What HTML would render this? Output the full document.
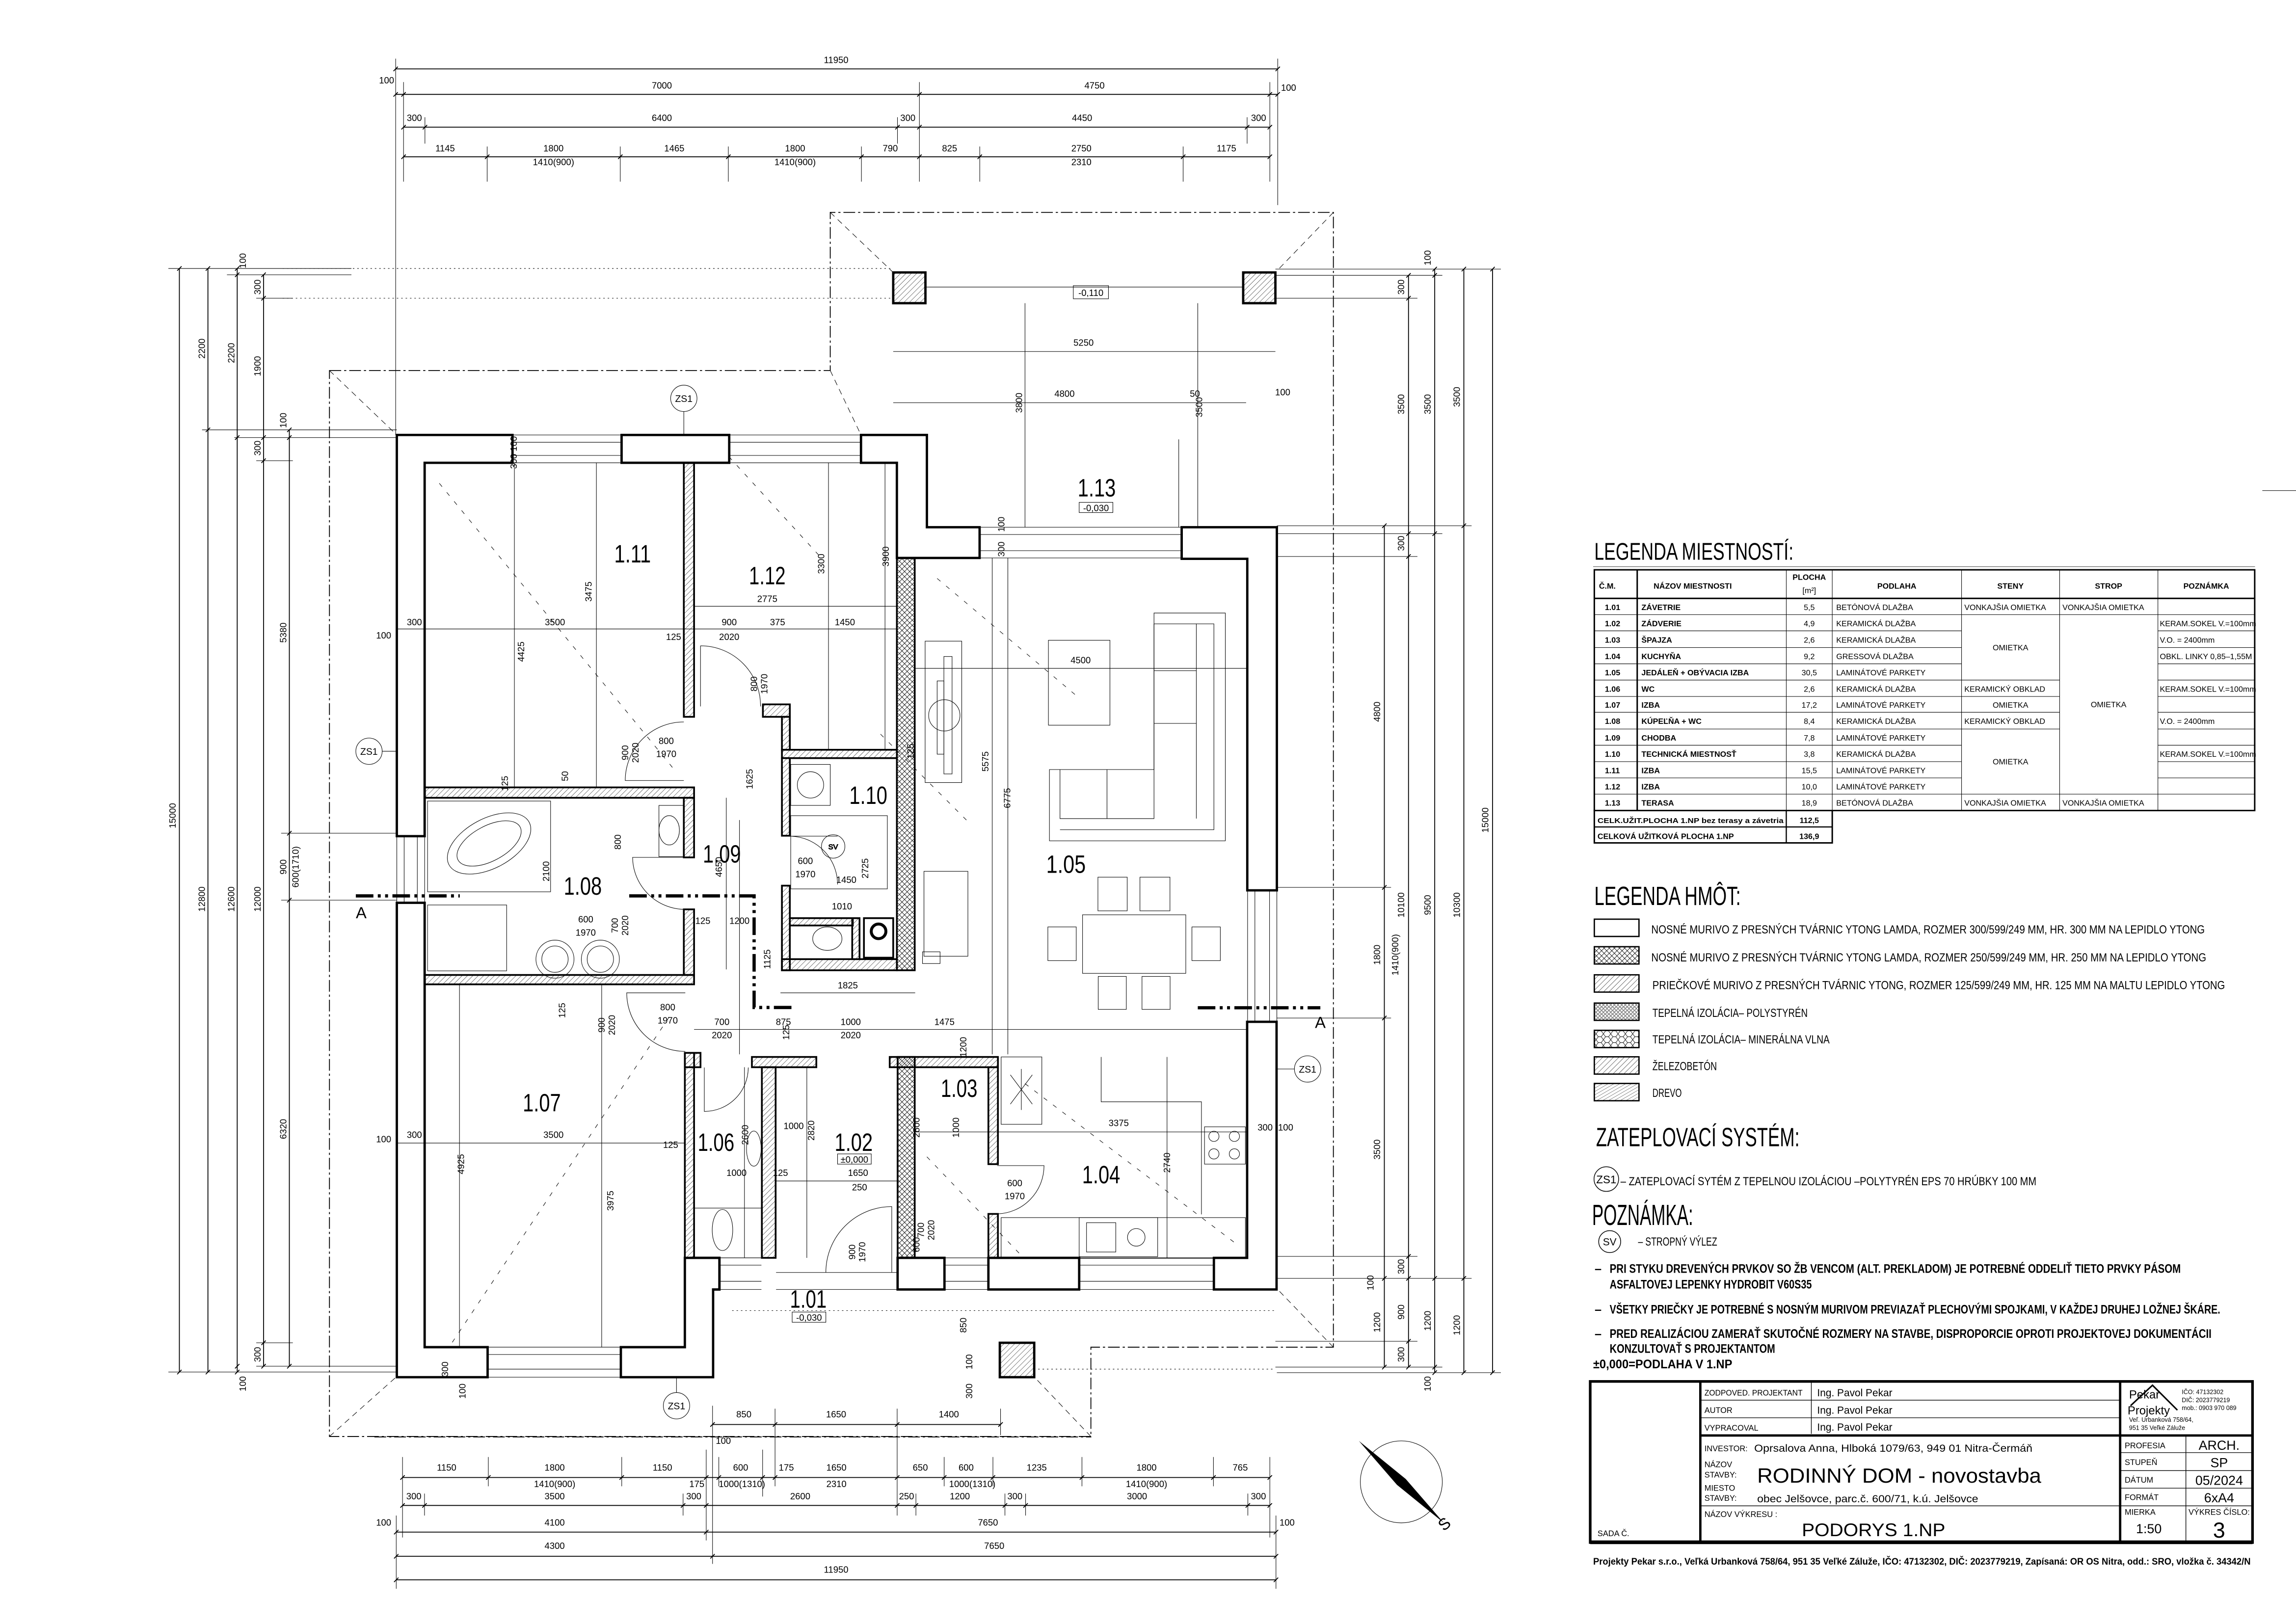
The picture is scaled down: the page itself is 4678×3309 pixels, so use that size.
<!DOCTYPE html>
<html><head><meta charset="utf-8"><style>
html,body{margin:0;padding:0;background:#fff}
svg{display:block}
text{font-family:"Liberation Sans",sans-serif;fill:#000}
.d{font-size:6.2px;text-anchor:middle}
.dv{font-size:6.2px;text-anchor:middle}
.rm{font-size:17px;text-anchor:middle}
.t{font-size:5.4px}
.tb{font-size:5.4px;font-weight:bold}
.c{text-anchor:middle}
.th{stroke:#000;stroke-width:1.6;fill:#fff}
.pt{stroke:#000;stroke-width:1.2;fill:url(#dg)}
.cw{stroke:#000;stroke-width:1.2;fill:url(#cx)}
.ep{stroke:#000;stroke-width:0.3;fill:url(#eps)}
.ln{stroke:#000;stroke-width:0.35;fill:none}
.dm{stroke:#000;stroke-width:0.6;fill:none}
.rf{stroke:#000;stroke-width:0.6;fill:none;stroke-dasharray:8 2 1.5 2}
</style></head><body>
<svg xmlns="http://www.w3.org/2000/svg" width="4678" height="3309" viewBox="0 0 1568 1109">
<defs>
<pattern id="dg" width="2.6" height="2.6" patternUnits="userSpaceOnUse" patternTransform="rotate(45)"><line x1="0" y1="0" x2="0" y2="2.6" stroke="#000" stroke-width="0.35"/></pattern>
<pattern id="cx" width="3.5" height="3.5" patternUnits="userSpaceOnUse"><path d="M0,0 L3.5,3.5 M3.5,0 L0,3.5" stroke="#000" stroke-width="0.3"/></pattern>
<pattern id="eps" width="2.5" height="2.5" patternUnits="userSpaceOnUse"><circle cx="1.25" cy="1.25" r="1" fill="none" stroke="#000" stroke-width="0.25"/></pattern>
<pattern id="mw" width="5" height="4" patternUnits="userSpaceOnUse"><path d="M0,2 L1.5,0 3.5,0 5,2 3.5,4 1.5,4Z" fill="none" stroke="#000" stroke-width="0.3"/></pattern>
<pattern id="wd" width="2" height="2" patternUnits="userSpaceOnUse" patternTransform="rotate(60)"><line x1="0" y1="0" x2="0" y2="2" stroke="#000" stroke-width="0.3"/></pattern>
</defs>
<rect width="1568" height="1109" fill="#fff"/>

<!-- ROOF / OVERHANG OUTLINES -->
<path class="rf" d="M225,253 L567,253 L567,145 L910.6,145 L910.6,920 L745,920 L745,981 L225,981 Z"/>
<path class="ln" stroke-dasharray="4 3" d="M225,253 L271,297 M567,145 L610,186 M910.6,145 L871,186 M910.6,920 L872,880 M225,981 L271,940 M745,981 L706,940 M567,253 L588,297"/>
<path class="ln" stroke-dasharray="3 5" d="M300,330 L460,525 M640,395 L735,475 M660,560 L600,500 M300,930 L460,690 M700,740 L845,850 M487,300 L560,380 M633,790 L700,860"/>
<path class="ln" stroke-dasharray="1 2" d="M193,183.3 L610,183.3 M193,203.6 L610,203.6 M871,916 L965,916 M871,933.6 L965,933.6 M706,935 L871,935 M500,895 L870,895"/>

<!-- TERRACE 1.13 -->
<rect x="610" y="186" width="22" height="21" class="th" style="fill:url(#dg)"/>
<rect x="849" y="186" width="22" height="21" class="th" style="fill:url(#dg)"/>
<path class="ln" d="M632,196 L849,196 M610,240 L871,240 M610,275 L851,275 M700,207 L700,360 M818,207 L818,360 M805,360 L805,300"/>
<text class="d" x="740" y="236">5250</text><text class="d" x="727" y="271">4800</text><text class="d" x="816" y="271">50</text><text class="d" x="876" y="270">100</text>
<text class="dv" transform="translate(698,275) rotate(-90)">3800</text><text class="dv" transform="translate(821,278) rotate(-90)">3500</text>
<rect x="733" y="195" width="24" height="9" class="ln"/><text class="d" x="745" y="202">-0,110</text>
<text class="rm" x="749" y="339" textLength="26" lengthAdjust="spacingAndGlyphs">1.13</text>
<rect x="737" y="343" width="23" height="7" class="ln"/><text class="d" x="748.5" y="349">-0,030</text>

<!-- INSULATION STRIPS -->
<g class="ep">
<rect x="271" y="297" width="5" height="274"/><rect x="271" y="616.5" width="5" height="324"/>
<rect x="271" y="297" width="79" height="5"/><rect x="424.5" y="297" width="73.5" height="5"/><rect x="588" y="297" width="45" height="5"/>
<rect x="628" y="297" width="5" height="68"/><rect x="628" y="360" width="41" height="5"/>
<rect x="807" y="360" width="65" height="5"/><rect x="867" y="360" width="5" height="248"/><rect x="867" y="697.8" width="5" height="182.8"/>
<rect x="271" y="935.5" width="62" height="5"/><rect x="424" y="935.5" width="63" height="5"/><rect x="482" y="880" width="5" height="60"/>
<rect x="675" y="875.6" width="62" height="5"/><rect x="829" y="875.6" width="43" height="5"/><rect x="613" y="875.6" width="32" height="5"/><rect x="472" y="875.6" width="19" height="5"/>
</g>

<!-- WINDOWS (thin) -->
<path class="ln" d="M350,297 L424.5,297 M350,302 L424.5,302 M350,311 L424.5,311 M350,316 L424.5,316
M498,297 L588,297 M498,302 L588,302 M498,311 L588,311 M498,316 L588,316
M669,360 L807,360 M669,365 L807,365 M669,376 L807,376 M669,381 L807,381
M271,571 L271,616.5 M276,571 L276,616.5 M285,571 L285,616.5 M290,571 L290,616.5
M333,920 L424,920 M333,925 L424,925 M333,935 L424,935 M333,940.5 L424,940.5
M852,608 L852,697.8 M857,608 L857,697.8 M867,608 L867,697.8 M872,608 L872,697.8
M737,859 L829,859 M737,864 L829,864 M737,875 L829,875 M737,880.6 L829,880.6
M645,859 L675,859 M645,864 L675,864 M645,875 L675,875 M645,880.6 L675,880.6
M491,859 L520,859 M491,864 L520,864 M491,875 L520,875 M491,880.6 L520,880.6
M530,880.6 L613,880.6 M530,869 L613,869"/>

<!-- OUTER MASONRY -->
<g class="th">
<polygon points="271,297 350,297 350,316 290,316 290,571 271,571"/>
<rect x="424.5" y="297" width="73.5" height="19"/>
<polygon points="588,297 633,297 633,360 669,360 669,381 612.5,381 612.5,316 588,316"/>
<polygon points="807,360 872,360 872,608 851.8,608 851.8,381.6 807,381.6"/>
<polygon points="851.7,697.8 871.8,697.8 871.8,880.6 829,880.6 829,859 851.7,859"/>
<rect x="675" y="859" width="62" height="21.6"/>
<rect x="613" y="859" width="32" height="21.6"/>
<rect x="472" y="859" width="19.3" height="21.6"/>
<polygon points="467.7,859 491.3,859 491.3,880.6 487,880.6 487,940.5 424,940.5 424,920 467.7,920"/>
<polygon points="271,616.5 290,616.5 290,920 333,920 333,940.5 271,940.5"/>
</g>
<rect x="682.8" y="917" width="23.5" height="23.5" class="th" style="fill:url(#dg)"/>

<!-- 250 WALLS -->
<rect x="612.5" y="381" width="12.2" height="281.6" class="cw"/>
<rect x="613" y="721.8" width="11.7" height="137.2" class="cw"/>

<!-- PARTITIONS 125 -->
<g class="pt">
<rect x="467" y="316" width="7" height="173.5"/>
<rect x="290" y="537.7" width="184" height="7.1"/>
<rect x="467" y="544.8" width="7" height="40.7"/>
<rect x="467" y="621" width="7" height="44.8"/>
<rect x="290" y="665.8" width="184" height="6.4"/>
<rect x="467.7" y="719" width="6.3" height="140"/>
<rect x="521" y="481" width="18.4" height="8.5"/>
<rect x="534" y="489.5" width="5.4" height="22.5"/>
<rect x="534" y="512" width="78.5" height="5.7"/>
<rect x="534" y="517.7" width="5.4" height="53"/>
<rect x="534" y="604.8" width="5.4" height="57.8"/>
<rect x="534" y="655" width="78.5" height="7.6"/>
<rect x="467.7" y="719" width="10.7" height="9.8"/>
<rect x="513.5" y="721.8" width="44" height="7"/>
<rect x="607.6" y="721.8" width="73.9" height="7"/>
<rect x="520.3" y="728.8" width="9.4" height="130.2"/>
<rect x="675" y="728.8" width="6.5" height="66.2"/>
<rect x="675" y="829" width="6.5" height="30"/>
<rect x="539.4" y="627" width="43" height="5"/>
<rect x="582" y="627" width="5" height="28"/>
</g>
<!-- section A -->
<path d="M243,611.8 L314,611.8 M429.7,611.8 L515,611.8 L515,688 L542.6,688 M818,688.2 L901.7,688.2" stroke="#000" stroke-width="2.2" fill="none" stroke-dasharray="12 3 2 3 2 3"/>
<text x="243" y="627" style="font-size:11px">A</text><text x="898" y="702" style="font-size:11px">A</text>

<!-- DOORS -->
<path class="ln" d="M467,493 A40,40 0 0 0 427,533 L467,533
M478.4,441 L478.4,482.4 M478.4,441 A41,41 0 0 1 519.4,482.4
M468,585.5 L432,585.5 A36,36 0 0 0 468,621
M540,571 L572,571 M540,571 A33,33 0 0 1 572,604
M468,678 L428,678 A40,40 0 0 0 468,718
M481,729 L481,759 A30,30 0 0 0 511,729
M609,869 L609,824 A45,45 0 0 0 564,869
M681,796 L713,796 A33,33 0 0 1 681,829"/>

<!-- FURNITURE -->
<g class="ln">
<polygon points="788.1,418.6 836.8,418.6 836.8,574.2 716.7,574.2 716.7,525.5 788.1,525.5"/>
<polyline points="788.1,426 829,426 829,566.6 723.9,566.6"/>
<polyline points="788.1,426 788.1,559 723.9,559 723.9,525.5"/>
<line x1="817" y1="426" x2="817" y2="559"/><line x1="788.1" y1="458" x2="817" y2="458"/><line x1="788.1" y1="494" x2="817" y2="494"/><line x1="756" y1="525.5" x2="756" y2="559"/>
<rect x="716" y="437.2" width="42" height="58"/>
<rect x="631.8" y="437.8" width="25" height="96.6"/><rect x="644.6" y="448.3" width="5.6" height="80.2"/><rect x="640" y="465" width="4.6" height="50"/><circle cx="644.9" cy="488.5" r="10.7"/>
<rect x="739.3" y="624.7" width="70.5" height="40"/>
<rect x="749.8" y="599" width="20" height="23"/><rect x="778.5" y="599" width="20.5" height="23"/>
<rect x="750" y="666.8" width="19.2" height="22.5"/><rect x="779.9" y="666.8" width="19.2" height="22.5"/>
<rect x="715.6" y="633" width="19.4" height="23"/><rect x="814" y="633" width="19.4" height="23"/>
<polyline points="752,721.8 752,752.4 820.5,752.4 820.5,829.3"/>
<rect x="683.7" y="831.5" width="166.8" height="27.8"/><rect x="737" y="831.5" width="53.6" height="26.7"/><rect x="742" y="835" width="20" height="20"/><circle cx="776" cy="845" r="6"/>
<rect x="822.6" y="769.5" width="27.9" height="25.5"/><circle cx="829" cy="776" r="3.5"/><circle cx="843" cy="776" r="3.5"/><circle cx="829" cy="788" r="3.5"/><circle cx="843" cy="788" r="3.5"/>
<rect x="683.7" y="721.8" width="27.8" height="46"/><path d="M690,734 L705,754 M705,734 L690,754 M697.5,730 L697.5,758"/>
<rect x="292" y="547" width="84" height="62"/><ellipse cx="334" cy="576" rx="31" ry="17" transform="rotate(-28 334 576)"/><ellipse cx="334" cy="576" rx="24" ry="12" transform="rotate(-28 334 576)"/>
<ellipse cx="457" cy="567" rx="7" ry="10"/><rect x="450" y="550" width="17" height="35"/>
<rect x="292" y="618" width="54" height="45"/><circle cx="379" cy="655" r="13"/><circle cx="410" cy="655" r="13"/><circle cx="379" cy="655" r="9"/><circle cx="410" cy="655" r="9"/>
<rect x="540" y="522" width="27" height="28"/><circle cx="553.5" cy="536" r="9"/>
<rect x="540" y="557" width="66" height="50"/><circle cx="569" cy="578" r="8"/><text x="569" y="580" class="d" style="font-size:5px">SV</text>
<rect x="590" y="627" width="20" height="27" style="stroke-width:1.2"/><circle cx="600" cy="636" r="5" style="stroke-width:2"/>
<ellipse cx="565" cy="641" rx="10" ry="8"/>
<ellipse cx="514.8" cy="784.4" rx="5" ry="12"/><ellipse cx="493.4" cy="840" rx="7" ry="14"/><rect x="474" y="825" width="46" height="34"/>
<rect x="631" y="595" width="30" height="58"/><rect x="630" y="650" width="12" height="8"/>
</g>

<!-- INTERIOR DIMENSIONS -->
<path class="ln" d="M271,429.5 L612.5,429.5 M474,414 L612.5,414 M351.3,316 L351.3,537.7 M407.3,316 L407.3,537.7 M565.8,316 L565.8,512 M604.4,316 L604.4,512
M625,456.4 L852,456.4 M677.6,381 L677.6,720 M688.3,381 L688.3,720
M271,780.6 L467.7,780.6 M313.8,672 L313.8,920 M410.9,672 L410.9,920
M625,773 L852,773 M797,721.8 L797,859 M530,806.5 L613,806.5 M551,728.8 L551,859 M508.4,728.8 L508.4,859
M533,678 L625,678 M474,703 L852,703 M496,544.8 L496,662 M505,560 L505,720"/>
<g class="d">
<text x="283" y="427">300</text><text x="379" y="427">3500</text><text x="460" y="437">125</text><text x="498" y="427">900</text><text x="498" y="437">2020</text><text x="531" y="427">375</text><text x="577" y="427">1450</text>
<text x="524" y="411">2775</text><text x="738" y="453">4500</text><text x="283" y="777">300</text><text x="378" y="777">3500</text><text x="458" y="784">125</text>
<text x="764" y="769">3375</text><text x="586" y="803">1650</text><text x="579" y="675">1825</text><text x="581" y="700">1000</text><text x="581" y="709">2020</text><text x="645" y="700">1475</text><text x="535" y="700">875</text><text x="493" y="700">700</text><text x="493" y="709">2020</text>
<text x="455" y="508">800</text><text x="455" y="517">1970</text><text x="456" y="690">800</text><text x="456" y="699">1970</text><text x="400" y="630">600</text><text x="400" y="639">1970</text><text x="550" y="590">600</text><text x="550" y="599">1970</text><text x="693" y="810">600</text><text x="693" y="819">1970</text>
<text x="262" y="436">100</text><text x="262" y="780">100</text><text x="578" y="603">1450</text><text x="575" y="621">1010</text><text x="505" y="631">1200</text><text x="480" y="631">125</text><text x="864" y="772">300</text><text x="878" y="772">100</text><text x="587" y="813">250</text>
<text x="542" y="771">1000</text><text x="503" y="803">1000</text><text x="533" y="803">125</text>
</g>
<g class="dv">
<text transform="translate(358,445) rotate(-90)">4425</text><text transform="translate(404,404) rotate(-90)">3475</text><text transform="translate(563,385) rotate(-90)">3300</text><text transform="translate(607,380) rotate(-90)">3900</text>
<text transform="translate(675,520) rotate(-90)">5575</text><text transform="translate(690,545) rotate(-90)">6775</text><text transform="translate(317,795) rotate(-90)">4925</text><text transform="translate(419,820) rotate(-90)">3975</text>
<text transform="translate(799,794) rotate(-90)">2740</text><text transform="translate(556,772) rotate(-90)">2820</text><text transform="translate(511,775) rotate(-90)">2600</text><text transform="translate(514,532) rotate(-90)">1625</text>
<text transform="translate(493,592) rotate(-90)">4650</text><text transform="translate(375,595) rotate(-90)">2100</text><text transform="translate(429,514) rotate(-90)">900</text><text transform="translate(436,514) rotate(-90)">2020</text>
<text transform="translate(517,467) rotate(-90)">800</text><text transform="translate(524,467) rotate(-90)">1970</text><text transform="translate(526,655) rotate(-90)">1125</text><text transform="translate(593,593) rotate(-90)">2725</text>
<text transform="translate(660,715) rotate(-90)">1200</text><text transform="translate(539,705) rotate(-90)">125</text>
<text transform="translate(628,770) rotate(-90)">2600</text><text transform="translate(655,770) rotate(-90)">1000</text><text transform="translate(631,840) rotate(-90)">700</text><text transform="translate(638,840) rotate(-90)">2020</text>
<text transform="translate(584,855) rotate(-90)">900</text><text transform="translate(591,855) rotate(-90)">1970</text><text transform="translate(628,850) rotate(-90)">600</text><text transform="translate(386,690) rotate(-90)">125</text><text transform="translate(413,700) rotate(-90)">900</text><text transform="translate(420,700) rotate(-90)">2020</text>
<text transform="translate(347,535) rotate(-90)">125</text><text transform="translate(388,530) rotate(-90)">50</text><text transform="translate(424,575) rotate(-90)">800</text><text transform="translate(422,632) rotate(-90)">700</text><text transform="translate(429,632) rotate(-90)">2020</text>
<text transform="translate(624,513) rotate(-90)">125</text><text transform="translate(686,375) rotate(-90)">300</text><text transform="translate(686,358) rotate(-90)">100</text><text transform="translate(353,303) rotate(-90)">100</text><text transform="translate(353,315) rotate(-90)">300</text>
<text transform="translate(664,930) rotate(-90)">100</text><text transform="translate(664,950) rotate(-90)">300</text><text transform="translate(660,905) rotate(-90)">850</text><text transform="translate(306,935) rotate(-90)">300</text><text transform="translate(318,950) rotate(-90)">100</text>
</g>

<!-- ROOM LABELS -->
<g class="rm">
<text x="432" y="384" textLength="25" lengthAdjust="spacingAndGlyphs">1.11</text>
<text x="524" y="399" textLength="25" lengthAdjust="spacingAndGlyphs">1.12</text>
<text x="593" y="549" textLength="26" lengthAdjust="spacingAndGlyphs">1.10</text>
<text x="493" y="589" textLength="26" lengthAdjust="spacingAndGlyphs">1.09</text>
<text x="398" y="611" textLength="26" lengthAdjust="spacingAndGlyphs">1.08</text>
<text x="728" y="596" textLength="27" lengthAdjust="spacingAndGlyphs">1.05</text>
<text x="370" y="759" textLength="26" lengthAdjust="spacingAndGlyphs">1.07</text>
<text x="489" y="786" textLength="25" lengthAdjust="spacingAndGlyphs">1.06</text>
<text x="583" y="786" textLength="26" lengthAdjust="spacingAndGlyphs">1.02</text>
<text x="655" y="749" textLength="25" lengthAdjust="spacingAndGlyphs">1.03</text>
<text x="752" y="808" textLength="26" lengthAdjust="spacingAndGlyphs">1.04</text>
<text x="552" y="893" textLength="25" lengthAdjust="spacingAndGlyphs">1.01</text>
</g>
<rect x="572" y="788" width="23" height="7" class="ln"/><text class="d" x="583.5" y="794">±0,000</text>
<rect x="541" y="896" width="23" height="7" class="ln"/><text class="d" x="552.5" y="902">-0,030</text>

<!-- ZS1 markers -->
<g class="ln"><circle cx="467" cy="272" r="9"/><circle cx="252" cy="513" r="9"/><circle cx="893" cy="730" r="9"/><circle cx="462" cy="960" r="9"/>
<path d="M467,281 L467,297 M261,513 L271,513 M872,730 L884,730 M462,940.5 L462,951"/></g>
<g class="d" style="font-size:6.5px"><text x="467" y="274.5">ZS1</text><text x="252" y="515.5">ZS1</text><text x="893" y="732.5">ZS1</text><text x="462" y="962.5">ZS1</text></g>

<!-- TOP DIMENSIONS -->
<path class="dm" d="M270.2,47 L872.6,47 M270.2,64.4 L872.6,64.4 M275.6,86.8 L867.2,86.8 M275.6,107 L867.2,107"/>
<path class="ln" d="M270.2,40 L270.2,297 M872.6,40 L872.6,140 M275.6,56 L275.6,124 M627.9,56 L627.9,124 M867.2,56 L867.2,124 M290.2,80 L290.2,98 M612.9,80 L612.9,98 M851.7,80 L851.7,98 M332.7,100 L332.7,124 M423.6,100 L423.6,124 M497.4,100 L497.4,124 M588.3,100 L588.3,124 M669.1,100 L669.1,124 M808,100 L808,124"/>
<path class="dm" d="M268.7,48.5 l3,-3 M871.1,48.5 l3,-3 M268.7,65.9 l3,-3 M274.1,65.9 l3,-3 M626.4,65.9 l3,-3 M865.7,65.9 l3,-3 M871.1,65.9 l3,-3 M274.1,88.3 l3,-3 M288.7,88.3 l3,-3 M611.4,88.3 l3,-3 M626.4,88.3 l3,-3 M850.2,88.3 l3,-3 M865.7,88.3 l3,-3 M274.1,108.5 l3,-3 M331.2,108.5 l3,-3 M422.1,108.5 l3,-3 M495.9,108.5 l3,-3 M586.8,108.5 l3,-3 M626.4,108.5 l3,-3 M667.6,108.5 l3,-3 M806.5,108.5 l3,-3 M865.7,108.5 l3,-3"/>
<g class="d">
<text x="571" y="43">11950</text><text x="452" y="60.4">7000</text><text x="747.5" y="60.4">4750</text><text x="264" y="57">100</text><text x="880" y="62">100</text>
<text x="283" y="82.5">300</text><text x="452" y="82.5">6400</text><text x="620" y="82.5">300</text><text x="739" y="82.5">4450</text><text x="859.5" y="82.5">300</text>
<text x="304" y="103.3">1145</text><text x="378" y="103.3">1800</text><text x="460.5" y="103.3">1465</text><text x="543" y="103.3">1800</text><text x="608" y="103.3">790</text><text x="648.5" y="103.3">825</text><text x="738.5" y="103.3">2750</text><text x="837.6" y="103.3">1175</text>
<text x="378" y="112.7">1410(900)</text><text x="543" y="112.7">1410(900)</text><text x="738.5" y="112.7">2310</text>
</g>

<!-- LEFT DIMENSIONS -->
<path class="dm" d="M122.5,183.3 L122.5,937 M142,183.3 L142,937 M162,183.3 L162,937 M180,187.6 L180,933 M197.6,293.5 L197.6,933"/>
<path class="ln" d="M115,183.3 L240,183.3 M155,187.6 L240,187.6 M138,293.5 L271,293.5 M160,298.8 L271,298.8 M175,314.6 L200,314.6 M192,569 L271,569 M192,614.7 L271,614.7 M175,917 L200,917 M175,933 L271,933 M115,937 L271,937 M175,203.6 L200,203.6"/>
<path class="dm" d="M121,184.8 l3,-3 M121,938.5 l3,-3 M140.5,184.8 l3,-3 M140.5,295 l3,-3 M140.5,938.5 l3,-3 M160.5,184.8 l3,-3 M160.5,189.1 l3,-3 M160.5,300.3 l3,-3 M160.5,934.5 l3,-3 M160.5,938.5 l3,-3 M178.5,189.1 l3,-3 M178.5,205.1 l3,-3 M178.5,300.3 l3,-3 M178.5,316.1 l3,-3 M178.5,918.5 l3,-3 M178.5,934.5 l3,-3 M196.1,295 l3,-3 M196.1,300.3 l3,-3 M196.1,570.5 l3,-3 M196.1,616.2 l3,-3 M196.1,934.5 l3,-3"/>
<g class="dv">
<text transform="translate(120,557) rotate(-90)">15000</text><text transform="translate(140,238) rotate(-90)">2200</text><text transform="translate(140,614) rotate(-90)">12800</text>
<text transform="translate(160,241) rotate(-90)">2200</text><text transform="translate(160,614) rotate(-90)">12600</text><text transform="translate(168,178) rotate(-90)">100</text><text transform="translate(168,945) rotate(-90)">100</text>
<text transform="translate(178,196) rotate(-90)">300</text><text transform="translate(178,250) rotate(-90)">1900</text><text transform="translate(178,306) rotate(-90)">300</text><text transform="translate(178,614) rotate(-90)">12000</text><text transform="translate(178,925) rotate(-90)">300</text>
<text transform="translate(195.5,287) rotate(-90)">100</text><text transform="translate(195.5,432) rotate(-90)">5380</text><text transform="translate(195.5,592) rotate(-90)">900</text><text transform="translate(204,592) rotate(-90)">600(1710)</text><text transform="translate(195.5,771) rotate(-90)">6320</text>
</g>

<!-- RIGHT DIMENSIONS -->
<path class="dm" d="M945.4,359 L945.4,933.6 M961.9,188 L961.9,933.6 M979.8,183.7 L979.8,937.4 M999.7,183.7 L999.7,937.4 M1019.3,183.7 L1019.3,937.4"/>
<path class="ln" d="M871,183.7 L1025,183.7 M871,188 L985,188 M871,203.6 L968,203.6 M872,359 L1005,359 M872,364.4 L985,364.4 M872,380 L968,380 M872,606 L950,606 M872,695.2 L950,695.2 M872,858 L968,858 M872,873 L1005,873 M872,916 L968,916 M872,933.6 L985,933.6 M872,937.4 L1025,937.4"/>
<path class="dm" d="M943.9,360.5 l3,-3 M943.9,607.5 l3,-3 M943.9,696.7 l3,-3 M943.9,874.5 l3,-3 M943.9,935.1 l3,-3 M960.4,189.5 l3,-3 M960.4,205.1 l3,-3 M960.4,365.9 l3,-3 M960.4,381.5 l3,-3 M960.4,859.5 l3,-3 M960.4,874.5 l3,-3 M960.4,917.5 l3,-3 M960.4,935.1 l3,-3 M978.3,185.2 l3,-3 M978.3,189.5 l3,-3 M978.3,365.9 l3,-3 M978.3,874.5 l3,-3 M978.3,935.1 l3,-3 M978.3,938.9 l3,-3 M998.2,185.2 l3,-3 M998.2,360.5 l3,-3 M998.2,874.5 l3,-3 M998.2,938.9 l3,-3 M1017.8,185.2 l3,-3 M1017.8,938.9 l3,-3"/>
<g class="dv">
<text transform="translate(942.5,486) rotate(-90)">4800</text><text transform="translate(942.5,652) rotate(-90)">1800</text><text transform="translate(955,652) rotate(-90)">1410(900)</text><text transform="translate(942.5,785) rotate(-90)">3500</text><text transform="translate(938,876) rotate(-90)">100</text><text transform="translate(942.5,903) rotate(-90)">1200</text>
<text transform="translate(959,196) rotate(-90)">300</text><text transform="translate(959,276) rotate(-90)">3500</text><text transform="translate(959,371) rotate(-90)">300</text><text transform="translate(959,618) rotate(-90)">10100</text><text transform="translate(959,865) rotate(-90)">300</text><text transform="translate(959,896) rotate(-90)">900</text><text transform="translate(959,925) rotate(-90)">300</text>
<text transform="translate(977,176) rotate(-90)">100</text><text transform="translate(977,276) rotate(-90)">3500</text><text transform="translate(977,618) rotate(-90)">9500</text><text transform="translate(977,902) rotate(-90)">1200</text><text transform="translate(977,945) rotate(-90)">100</text>
<text transform="translate(997,271) rotate(-90)">3500</text><text transform="translate(997,618) rotate(-90)">10300</text><text transform="translate(997,905) rotate(-90)">1200</text>
<text transform="translate(1016.5,560) rotate(-90)">15000</text>
</g>

<!-- BOTTOM DIMENSIONS -->
<path class="dm" d="M486.6,972.8 L683.3,972.8 M274.9,1009 L867.2,1009 M274.9,1028.1 L867.2,1028.1 M270.6,1046.3 L871.4,1046.3 M270.6,1062.8 L871.4,1062.8 M270.6,1078.9 L871.4,1078.9"/>
<path class="ln" d="M486.6,960 L486.6,1068 M529.3,962 L529.3,1015 M612.7,962 L612.7,1035 M683.3,962 L683.3,980 M270.6,1035 L270.6,1085 M871.4,1035 L871.4,1085 M274.9,995 L274.9,1050 M333.5,995 L333.5,1015 M424.6,995 L424.6,1015 M482.3,990 L482.3,1052 M490.9,995 L490.9,1015 M520.8,990 L520.8,1022 M644.8,995 L644.8,1015 M678.1,995 L678.1,1015 M738.9,995 L738.9,1015 M828.7,995 L828.7,1015 M867.2,995 L867.2,1050 M289.9,1020 L289.9,1035 M466.5,1020 L466.5,1035 M625.5,1020 L625.5,1035 M686.3,1020 L686.3,1035 M700.4,1020 L700.4,1035 M852.2,1020 L852.2,1035"/>
<path class="dm" d="M485.1,974.3 l3,-3 M527.8,974.3 l3,-3 M611.2,974.3 l3,-3 M681.8,974.3 l3,-3
M273.4,1010.5 l3,-3 M332,1010.5 l3,-3 M423.1,1010.5 l3,-3 M480.8,1010.5 l3,-3 M489.4,1010.5 l3,-3 M519.3,1010.5 l3,-3 M527.8,1010.5 l3,-3 M611.2,1010.5 l3,-3 M643.3,1010.5 l3,-3 M676.6,1010.5 l3,-3 M737.4,1010.5 l3,-3 M827.2,1010.5 l3,-3 M865.7,1010.5 l3,-3
M273.4,1029.6 l3,-3 M288.4,1029.6 l3,-3 M465,1029.6 l3,-3 M480.8,1029.6 l3,-3 M611.2,1029.6 l3,-3 M624,1029.6 l3,-3 M684.8,1029.6 l3,-3 M698.9,1029.6 l3,-3 M850.7,1029.6 l3,-3 M865.7,1029.6 l3,-3
M269.1,1047.8 l3,-3 M480.8,1047.8 l3,-3 M869.9,1047.8 l3,-3 M269.1,1064.3 l3,-3 M485.1,1064.3 l3,-3 M869.9,1064.3 l3,-3 M269.1,1080.4 l3,-3 M869.9,1080.4 l3,-3"/>
<g class="d">
<text x="508" y="968">850</text><text x="571" y="968">1650</text><text x="648" y="968">1400</text>
<text x="305" y="1004.3">1150</text><text x="378.8" y="1004.3">1800</text><text x="452.4" y="1004.3">1150</text><text x="505.8" y="1004.3">600</text><text x="537" y="1004.3">175</text><text x="571.2" y="1004.3">1650</text><text x="628.5" y="1004.3">650</text><text x="659.8" y="1004.3">600</text><text x="708" y="1004.3">1235</text><text x="783" y="1004.3">1800</text><text x="847" y="1004.3">765</text>
<text x="378.8" y="1015.6">1410(900)</text><text x="475.9" y="1015.6">175</text><text x="506.7" y="1015.6">1000(1310)</text><text x="571.2" y="1015.6">2310</text><text x="664" y="1015.6">1000(1310)</text><text x="783" y="1015.6">1410(900)</text>
<text x="282.6" y="1024">300</text><text x="378.8" y="1024">3500</text><text x="473.8" y="1024">300</text><text x="546.5" y="1024">2600</text><text x="619.1" y="1024">250</text><text x="655.5" y="1024">1200</text><text x="693.1" y="1024">300</text><text x="776.5" y="1024">3000</text><text x="859.4" y="1024">300</text>
<text x="378.8" y="1041.8">4100</text><text x="674.7" y="1041.8">7650</text><text x="262" y="1041.8">100</text><text x="879" y="1041.8">100</text>
<text x="378.8" y="1057.8">4300</text><text x="679" y="1057.8">7650</text><text x="571" y="1074">11950</text>
<text x="494" y="986">100</text>
</g>
<path class="rf" d="M255.7,981.3 L745.3,981.3"/>

<!-- NORTH ARROW -->
<circle cx="957" cy="1012" r="28" class="ln"/>
<path d="M928,984 L960,1010 L986,1040 L954,1014 Z" fill="#000"/>
<path class="ln" d="M945,1000 L969,1024"/>
<text x="986" y="1046" style="font-size:11px" transform="rotate(-40 986 1046)">S</text>

<!-- LEGENDA MIESTNOSTI -->
<text x="1088.8" y="382.2" style="font-size:16.5px" textLength="136" lengthAdjust="spacingAndGlyphs">LEGENDA MIESTNOSTÍ:</text>
<line x1="1088" y1="387" x2="1540" y2="387" stroke="#000" stroke-width="0.25"/>
<rect x="1088.8" y="389.1" width="451" height="164.4" fill="none" stroke="#000" stroke-width="1"/>
<path stroke="#000" stroke-width="1" d="M1088.8,408.6 L1539.8,408.6 M1118.1,389.1 L1118.1,553.5"/>
<path class="ln" d="M1219.9,389.1 L1219.9,553.5 M1251.3,389.1 L1251.3,553.5 M1339.6,389.1 L1339.6,553.5 M1406.6,389.1 L1406.6,553.5 M1473.7,389.1 L1473.7,553.5
M1088.8,419.7 L1539.8,419.7 M1088.8,430.8 L1339.6,430.8 M1088.8,442.2 L1339.6,442.2 M1088.8,453.3 L1339.6,453.3 M1088.8,464.4 L1406.6,464.4 M1088.8,475.6 L1406.6,475.6 M1088.8,486.4 L1406.6,486.4 M1088.8,497.8 L1406.6,497.8 M1088.8,508.9 L1339.6,508.9 M1088.8,520.1 L1339.6,520.1 M1088.8,531.2 L1339.6,531.2 M1088.8,542.3 L1539.8,542.3
M1473.7,430.8 L1539.8,430.8 M1473.7,442.2 L1539.8,442.2 M1473.7,453.3 L1539.8,453.3 M1473.7,464.4 L1539.8,464.4 M1473.7,475.6 L1539.8,475.6 M1473.7,486.4 L1539.8,486.4 M1473.7,497.8 L1539.8,497.8 M1473.7,508.9 L1539.8,508.9 M1473.7,520.1 L1539.8,520.1 M1473.7,531.2 L1539.8,531.2"/>
<rect x="1088.8" y="553.5" width="162.5" height="22.1" fill="none" stroke="#000" stroke-width="1"/>
<path stroke="#000" stroke-width="0.8" d="M1088.8,564.7 L1251.3,564.7 M1219.9,553.5 L1219.9,575.6"/>
<g class="tb">
<text x="1092" y="402">Č.M.</text><text x="1156" y="402" class="c">NÁZOV MIESTNOSTI</text><text x="1235.6" y="396" class="c">PLOCHA</text><text x="1235.6" y="405" class="c" style="font-weight:normal">[m²]</text>
<text x="1295.4" y="402" class="c">PODLAHA</text><text x="1373" y="402" class="c">STENY</text><text x="1440" y="402" class="c">STROP</text><text x="1506.7" y="402" class="c">POZNÁMKA</text>
</g>
<g class="tb">
<text x="1096" y="416.5">1.01</text><text x="1096" y="427.6">1.02</text><text x="1096" y="438.8">1.03</text><text x="1096" y="450.1">1.04</text><text x="1096" y="461.2">1.05</text><text x="1096" y="472.3">1.06</text><text x="1096" y="483.3">1.07</text><text x="1096" y="494.4">1.08</text><text x="1096" y="505.7">1.09</text><text x="1096" y="516.8">1.10</text><text x="1096" y="528">1.11</text><text x="1096" y="539.1">1.12</text><text x="1096" y="550.2">1.13</text>
<text x="1121" y="416.5">ZÁVETRIE</text><text x="1121" y="427.6">ZÁDVERIE</text><text x="1121" y="438.8">ŠPAJZA</text><text x="1121" y="450.1">KUCHYŇA</text><text x="1121" y="461.2">JEDÁLEŇ + OBÝVACIA IZBA</text><text x="1121" y="472.3">WC</text><text x="1121" y="483.3">IZBA</text><text x="1121" y="494.4">KÚPEĽŇA + WC</text><text x="1121" y="505.7">CHODBA</text><text x="1121" y="516.8">TECHNICKÁ MIESTNOSŤ</text><text x="1121" y="528">IZBA</text><text x="1121" y="539.1">IZBA</text><text x="1121" y="550.2">TERASA</text>
<text x="1091" y="562" style="font-size:5px" textLength="127" lengthAdjust="spacingAndGlyphs">CELK.UŽIT.PLOCHA 1.NP bez terasy a závetria</text><text x="1235.6" y="562" class="c">112,5</text>
<text x="1091" y="573">CELKOVÁ UŽITKOVÁ PLOCHA 1.NP</text><text x="1235.6" y="573" class="c">136,9</text>
</g>
<g class="t">
<g text-anchor="middle"><text x="1235.6" y="416.5">5,5</text><text x="1235.6" y="427.6">4,9</text><text x="1235.6" y="438.8">2,6</text><text x="1235.6" y="450.1">9,2</text><text x="1235.6" y="461.2">30,5</text><text x="1235.6" y="472.3">2,6</text><text x="1235.6" y="483.3">17,2</text><text x="1235.6" y="494.4">8,4</text><text x="1235.6" y="505.7">7,8</text><text x="1235.6" y="516.8">3,8</text><text x="1235.6" y="528">15,5</text><text x="1235.6" y="539.1">10,0</text><text x="1235.6" y="550.2">18,9</text></g>
<text x="1254" y="416.5">BETÓNOVÁ DLAŽBA</text><text x="1254" y="427.6">KERAMICKÁ DLAŽBA</text><text x="1254" y="438.8">KERAMICKÁ DLAŽBA</text><text x="1254" y="450.1">GRESSOVÁ DLAŽBA</text><text x="1254" y="461.2">LAMINÁTOVÉ PARKETY</text><text x="1254" y="472.3">KERAMICKÁ DLAŽBA</text><text x="1254" y="483.3">LAMINÁTOVÉ PARKETY</text><text x="1254" y="494.4">KERAMICKÁ DLAŽBA</text><text x="1254" y="505.7">LAMINÁTOVÉ PARKETY</text><text x="1254" y="516.8">KERAMICKÁ DLAŽBA</text><text x="1254" y="528">LAMINÁTOVÉ PARKETY</text><text x="1254" y="539.1">LAMINÁTOVÉ PARKETY</text><text x="1254" y="550.2">BETÓNOVÁ DLAŽBA</text>
<text x="1341.5" y="416.5">VONKAJŠIA OMIETKA</text><text x="1373" y="444" text-anchor="middle">OMIETKA</text><text x="1341.5" y="472.3">KERAMICKÝ OBKLAD</text><text x="1373" y="483.3" text-anchor="middle">OMIETKA</text><text x="1341.5" y="494.4">KERAMICKÝ OBKLAD</text><text x="1373" y="522" text-anchor="middle">OMIETKA</text><text x="1341.5" y="550.2">VONKAJŠIA OMIETKA</text>
<text x="1408.5" y="416.5">VONKAJŠIA OMIETKA</text><text x="1440" y="483" text-anchor="middle">OMIETKA</text><text x="1408.5" y="550.2">VONKAJŠIA OMIETKA</text>
<text x="1475" y="427.6">KERAM.SOKEL V.=100mm</text><text x="1475" y="438.8">V.O. = 2400mm</text><text x="1475" y="450.1" textLength="63" lengthAdjust="spacingAndGlyphs">OBKL. LINKY 0,85–1,55M</text><text x="1475" y="472.3">KERAM.SOKEL V.=100mm</text><text x="1475" y="494.4">V.O. = 2400mm</text><text x="1475" y="516.8">KERAM.SOKEL V.=100mm</text>
</g>

<!-- LEGENDA HMOT -->
<text x="1088.8" y="618" style="font-size:18px" textLength="100" lengthAdjust="spacingAndGlyphs">LEGENDA HMÔT:</text>
<g stroke="#000" stroke-width="0.9">
<rect x="1088.8" y="627.7" width="30.5" height="11.8" fill="#fff"/>
<rect x="1088.8" y="646.5" width="30.5" height="11.8" fill="url(#cx)"/>
<rect x="1088.8" y="665.7" width="30.5" height="11.8" fill="url(#dg)"/>
<rect x="1088.8" y="685" width="30.5" height="11.8" fill="url(#eps)"/>
<rect x="1088.8" y="703.6" width="30.5" height="11.8" fill="url(#mw)"/>
<rect x="1088.8" y="721.7" width="30.5" height="11.8" fill="url(#dg)"/>
<rect x="1088.8" y="739.9" width="30.5" height="11.8" fill="url(#wd)"/>
</g>
<g style="font-size:8px">
<text x="1127.7" y="637.5" textLength="378" lengthAdjust="spacingAndGlyphs">NOSNÉ MURIVO Z PRESNÝCH TVÁRNIC YTONG LAMDA, ROZMER 300/599/249 MM, HR. 300 MM NA LEPIDLO YTONG</text>
<text x="1127.7" y="656.5" textLength="379" lengthAdjust="spacingAndGlyphs">NOSNÉ MURIVO Z PRESNÝCH TVÁRNIC YTONG LAMDA, ROZMER 250/599/249 MM, HR. 250 MM NA LEPIDLO YTONG</text>
<text x="1128.5" y="675.5" textLength="391" lengthAdjust="spacingAndGlyphs">PRIEČKOVÉ MURIVO Z PRESNÝCH TVÁRNIC YTONG, ROZMER 125/599/249 MM, HR. 125 MM NA MALTU LEPIDLO YTONG</text>
<text x="1128.5" y="694.5" textLength="106" lengthAdjust="spacingAndGlyphs">TEPELNÁ IZOLÁCIA– POLYSTYRÉN</text>
<text x="1128.5" y="712.5" textLength="121" lengthAdjust="spacingAndGlyphs">TEPELNÁ IZOLÁCIA– MINERÁLNA VLNA</text>
<text x="1128.5" y="730.8" textLength="44" lengthAdjust="spacingAndGlyphs">ŽELEZOBETÓN</text>
<text x="1128.5" y="749" textLength="20" lengthAdjust="spacingAndGlyphs">DREVO</text>
</g>
<text x="1090" y="782.7" style="font-size:18px" textLength="139" lengthAdjust="spacingAndGlyphs">ZATEPLOVACÍ SYSTÉM:</text>
<circle cx="1097" cy="805.2" r="8.4" class="ln" style="stroke-width:0.5"/><text x="1097" y="808" class="c" style="font-size:7.5px">ZS1</text>
<text x="1106.7" y="809.4" style="font-size:8px" textLength="284" lengthAdjust="spacingAndGlyphs">– ZATEPLOVACÍ SYTÉM Z TEPELNOU IZOLÁCIOU –POLYTYRÉN EPS 70 HRÚBKY 100 MM</text>
<text x="1087.3" y="836.6" style="font-size:20px" textLength="69" lengthAdjust="spacingAndGlyphs">POZNÁMKA:</text>
<circle cx="1099.3" cy="847.9" r="7.5" class="ln" style="stroke-width:0.5"/><text x="1099.3" y="850.5" class="c" style="font-size:7px">SV</text>
<text x="1118.7" y="850.7" style="font-size:8px" textLength="54" lengthAdjust="spacingAndGlyphs">– STROPNÝ VÝLEZ</text>
<g style="font-size:8.5px;font-weight:bold">
<text x="1089" y="869.3">–</text><text x="1099.3" y="869.3" textLength="390" lengthAdjust="spacingAndGlyphs">PRI STYKU DREVENÝCH PRVKOV SO ŽB VENCOM (ALT. PREKLADOM) JE POTREBNÉ ODDELIŤ TIETO PRVKY PÁSOM</text>
<text x="1099.3" y="880" textLength="138" lengthAdjust="spacingAndGlyphs">ASFALTOVEJ LEPENKY HYDROBIT V60S35</text>
<text x="1089" y="897">–</text><text x="1099.3" y="897" textLength="417" lengthAdjust="spacingAndGlyphs">VŠETKY PRIEČKY JE POTREBNÉ S NOSNÝM MURIVOM PREVIAZAŤ PLECHOVÝMI SPOJKAMI, V KAŽDEJ DRUHEJ LOŽNEJ ŠKÁRE.</text>
<text x="1089" y="913.6">–</text><text x="1099.3" y="913.6" textLength="411" lengthAdjust="spacingAndGlyphs">PRED REALIZÁCIOU ZAMERAŤ SKUTOČNÉ ROZMERY NA STAVBE, DISPROPORCIE OPROTI PROJEKTOVEJ DOKUMENTÁCII</text>
<text x="1099.3" y="923.8" textLength="113" lengthAdjust="spacingAndGlyphs">KONZULTOVAŤ S PROJEKTANTOM</text>
<text x="1088" y="934.5" textLength="95" lengthAdjust="spacingAndGlyphs">±0,000=PODLAHA V 1.NP</text>
</g>

<!-- TITLE BLOCK -->
<rect x="1086" y="943.4" width="452.3" height="110" fill="none" stroke="#000" stroke-width="1.8"/>
<rect x="1086" y="1052" width="452.3" height="2.5" fill="#000"/>
<path stroke="#000" stroke-width="1.6" d="M1161.2,943.4 L1161.2,1053 M1447.9,943.4 L1447.9,1053 M1161.2,980.3 L1538.3,980.3"/>
<path class="ln" style="stroke-width:0.45" d="M1161.2,956.2 L1447.9,956.2 M1161.2,968.2 L1447.9,968.2 M1237,943.4 L1237,979.2 M1161.2,1028.4 L1447.9,1028.4 M1447.9,992 L1538.3,992 M1447.9,1004.3 L1538.3,1004.3 M1447.9,1016.3 L1538.3,1016.3 M1447.9,1028.4 L1538.3,1028.4 M1492.8,980.3 L1492.8,1053"/>
<g style="font-size:5.5px">
<text x="1164" y="953" textLength="67" lengthAdjust="spacingAndGlyphs">ZODPOVED. PROJEKTANT</text><text x="1164" y="965">AUTOR</text><text x="1164" y="977">VYPRACOVAL</text>
<text x="1164" y="991">INVESTOR:</text><text x="1164" y="1002">NÁZOV</text><text x="1164" y="1009">STAVBY:</text><text x="1164" y="1018">MIESTO</text><text x="1164" y="1025">STAVBY:</text>
<text x="1164" y="1036">NÁZOV VÝKRESU :</text><text x="1091" y="1049">SADA Č.</text>
<text x="1451" y="989">PROFESIA</text><text x="1451" y="1000.5">STUPEŇ</text><text x="1451" y="1012.5">DÁTUM</text><text x="1451" y="1024.5">FORMÁT</text><text x="1451" y="1034.5">MIERKA</text><text x="1515.5" y="1034.5" text-anchor="middle">VÝKRES ČÍSLO:</text>
</g>
<g style="font-size:7px">
<text x="1241" y="953.5">Ing. Pavol Pekar</text><text x="1241" y="965.5">Ing. Pavol Pekar</text><text x="1241" y="977">Ing. Pavol Pekar</text>
<text x="1198" y="991.5" textLength="190" lengthAdjust="spacingAndGlyphs">Oprsalova Anna, Hlboká 1079/63, 949 01 Nitra-Čermáň</text>
<text x="1200" y="1026" textLength="151" lengthAdjust="spacingAndGlyphs">obec Jelšovce, parc.č. 600/71, k.ú. Jelšovce</text>
</g>
<text x="1200" y="1012.5" style="font-size:14px" textLength="194" lengthAdjust="spacingAndGlyphs">RODINNÝ DOM - novostavba</text>
<text x="1230.5" y="1049" style="font-size:12.5px" textLength="98" lengthAdjust="spacingAndGlyphs">PODORYS 1.NP</text>
<g text-anchor="middle">
<text x="1515.5" y="990" style="font-size:9px">ARCH.</text><text x="1515.5" y="1002" style="font-size:9px">SP</text><text x="1515.5" y="1014" style="font-size:9px">05/2024</text><text x="1515.5" y="1026" style="font-size:9px">6xA4</text>
<text x="1467.5" y="1047" style="font-size:9px">1:50</text><text x="1515.5" y="1050" style="font-size:15px">3</text>
</g>
<path d="M1455,960 L1470,946 L1487,963" fill="none" stroke="#000" stroke-width="1"/>
<text x="1454" y="955" style="font-size:8px">Pekar</text><text x="1453" y="966" style="font-size:8px">Projekty</text>
<g style="font-size:4.2px"><text x="1490" y="952">IČO: 47132302</text><text x="1490" y="957.5">DIČ: 2023779219</text><text x="1490" y="963">mob.: 0903 970 089</text><text x="1454" y="971">Veľ. Urbanková 758/64,</text><text x="1454" y="976.5">951 35 Veľké Záluže</text></g>
<text x="1088" y="1068.5" style="font-size:6.5px;font-weight:bold" textLength="449" lengthAdjust="spacingAndGlyphs">Projekty Pekar s.r.o., Veľká Urbanková 758/64, 951 35  Veľké Záluže, IČO: 47132302, DIČ: 2023779219, Zapísaná: OR OS Nitra, odd.: SRO, vložka č. 34342/N</text>
<line x1="1545" y1="335" x2="1568" y2="335" class="ln"/>
</svg>
</body></html>
